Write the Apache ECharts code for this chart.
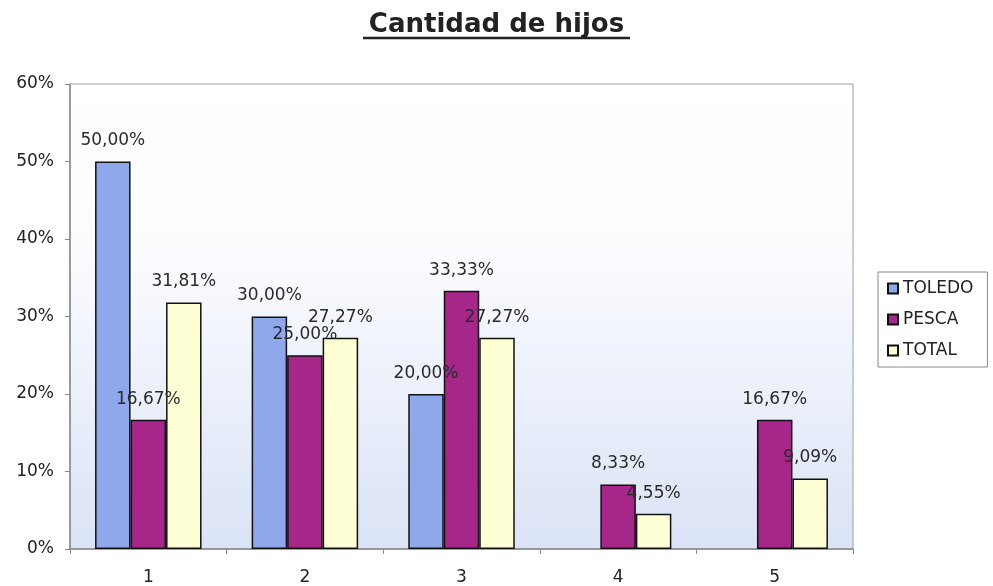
<!DOCTYPE html>
<html>
<head>
<meta charset="utf-8">
<script src="https://cdn.jsdelivr.net/npm/echarts@6/dist/echarts.min.js"></script>
<style>
  html, body { margin: 0; padding: 0; background: #fff; }
  #chart { width: 993px; height: 586px; }
</style>
</head>
<body>
<div id="chart"></div>
<script>
// datos
const categorias = ['1', '2', '3', '4', '5'];
const toledo = [50.00, 30.00, 20.00, null, null];
const pesca = [16.67, 25.00, 33.33, 8.33, 16.67];
const total = [31.81, 27.27, 27.27, 4.55, 9.09];
const yTicks = [0, 10, 20, 30, 40, 50, 60];

const font = 'DejaVu Sans';
const chart = echarts.init(document.getElementById('chart'));

function pct(v) {
  return v.toFixed(2).replace('.', ',') + '%';
}

function serie(name, data, color) {
  return {
    name: name,
    type: 'bar',
    data: data,
    barGap: '0%',
    barCategoryGap: '32%',
    itemStyle: { color: color, borderColor: '#111', borderWidth: 1.5 },
    label: {
      show: true,
      position: 'top',
      distance: 12,
      fontFamily: font,
      fontSize: 17,
      color: '#2a2a2a',
      formatter: p => pct(p.value)
    }
  };
}

let option = {
  backgroundColor: '#fff',
  animation: false,
  title: {
    text: 'Cantidad de hijos',
    left: 'center',
    top: 7,
    textStyle: { fontFamily: font, fontSize: 26, fontWeight: 'bold', color: '#222' }
  },
  graphic: [
    {
      type: 'line',
      shape: { x1: 363, y1: 38, x2: 630, y2: 38 },
      style: { stroke: '#222', lineWidth: 2.5 }
    }
  ],
  legend: {
    orient: 'vertical',
    left: 878,
    top: 272,
    padding: [8, 14, 8, 9],
    itemGap: 14,
    itemWidth: 10,
    itemHeight: 10,
    icon: 'rect',
    borderColor: '#888',
    borderWidth: 1,
    textStyle: { fontFamily: font, fontSize: 17, color: '#222', lineHeight: 17 },
    data: ['TOLEDO', 'PESCA', 'TOTAL']
  },
  grid: {
    left: 70,
    right: 140,
    top: 84,
    bottom: 36,
    show: true,
    borderColor: '#9aa0a8',
    borderWidth: 1,
    backgroundColor: new echarts.graphic.LinearGradient(0, 0, 0, 1, [
      { offset: 0, color: '#ffffff' },
      { offset: 0.35, color: '#fbfcfe' },
      { offset: 1, color: '#dae3f6' }
    ])
  },
  xAxis: {
    type: 'category',
    data: categorias,
    axisLine: { lineStyle: { color: '#888', width: 1.5 } },
    axisTick: { show: true, length: 5, lineStyle: { color: '#888' } },
    axisLabel: { fontFamily: font, fontSize: 17, color: '#222', margin: 20 }
  },
  yAxis: {
    type: 'value',
    min: yTicks[0],
    max: yTicks[yTicks.length - 1],
    interval: 10,
    axisLine: { show: true, lineStyle: { color: '#888', width: 1.5 } },
    axisTick: { show: true, length: 5, lineStyle: { color: '#888' } },
    splitLine: { show: false },
    axisLabel: { fontFamily: font, fontSize: 17, color: '#222', margin: 16, formatter: '{value}%' }
  },
  series: [
    serie('TOLEDO', toledo, '#8fa8ec'),
    serie('PESCA', pesca, '#a6268a'),
    serie('TOTAL', total, '#ffffd6')
  ]
};

option && chart.setOption(option);
</script>
</body>
</html>
